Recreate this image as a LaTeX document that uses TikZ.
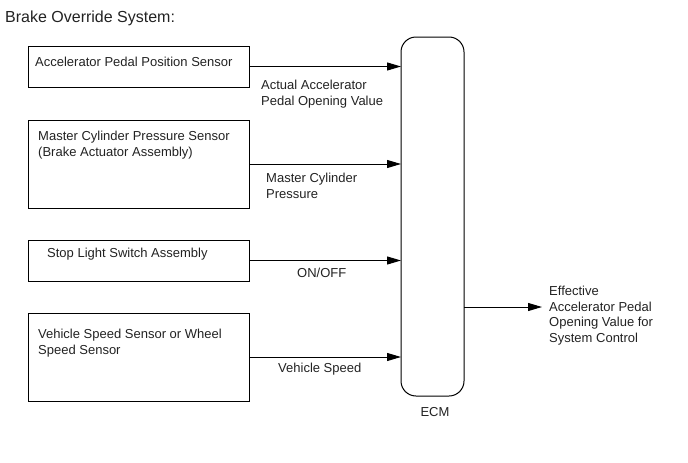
\documentclass[tikz,border=0pt]{standalone}
\usepackage{fontspec}
\setmainfont{Liberation Sans}
\usetikzlibrary{arrows.meta, positioning, calc}
\definecolor{inkgray}{HTML}{222222}

\begin{document}
\begin{tikzpicture}[x=1pt,y=-1pt,>={Triangle[length=14pt,width=8pt]},
  font=\fontsize{13}{16}\selectfont, text=inkgray,
  sensor/.style={draw, line width=1pt, inner sep=0pt, outer sep=0pt, minimum width=221pt, anchor=north west},
  txt/.style={inner sep=0pt, align=left, anchor=base west},
  sig/.style={->, line width=1pt}]
\useasboundingbox (0,0) rectangle (688,463);
% Title
\node[txt, font=\fontsize{16}{19}\selectfont] (title) at (5,22) {Brake Override System:};
% Sensors (text nodes are placed at the baseline of their last line)
\node[sensor, minimum height=41pt] (apps) at (28,46) {};
\node[txt] (appsname) at (35,66.5) {Accelerator Pedal Position Sensor};
\node[sensor, minimum height=88pt] (mcps) at (28,120) {};
\node[txt] (mcpsname) at (38,156.5) {Master Cylinder Pressure Sensor\\(Brake Actuator Assembly)};
\node[sensor, minimum height=41pt] (stop) at (28,240) {};
\node[txt] (stopname) at (47,257) {Stop Light Switch Assembly};
\node[sensor, minimum height=88pt] (spd) at (28,313) {};
\node[txt] (spdname) at (38,354.5) {Vehicle Speed Sensor or Wheel\\Speed Sensor};
% ECM
\node[draw, line width=1pt, rounded corners=15pt, inner sep=0pt, outer sep=0pt,
  minimum width=63pt, minimum height=359pt, anchor=north west] (ecm) at (401,37) {};
\node[inner sep=0pt, anchor=base] (ecmname) at (435,416.5) {ECM};
% Signals
\draw[sig] (apps.east) -- (apps.east -| ecm.west);
\draw[sig] (mcps.east) -- (mcps.east -| ecm.west);
\draw[sig] (stop.east) -- (stop.east -| ecm.west);
\draw[sig] (spd.east) -- (spd.east -| ecm.west);
\coordinate (out) at (542,307);
\draw[sig] (ecm.east |- out) -- (out);
% Signal labels
\node[txt] (apvlbl) at (261,105.5) {Actual Accelerator\\Pedal Opening Value};
\node[txt] (mcplbl) at (266,198.5) {Master Cylinder\\Pressure};
\node[txt] (onlbl) at (297,277.5) {ON/OFF};
\node[txt] (spdlbl) at (278,372.5) {Vehicle Speed};
\node[txt, font=\fontsize{13}{15.7}\selectfont] (outlbl) at (549,342.6)
  {Effective\\Accelerator Pedal\\Opening Value for\\System Control};
\end{tikzpicture}
\end{document}
